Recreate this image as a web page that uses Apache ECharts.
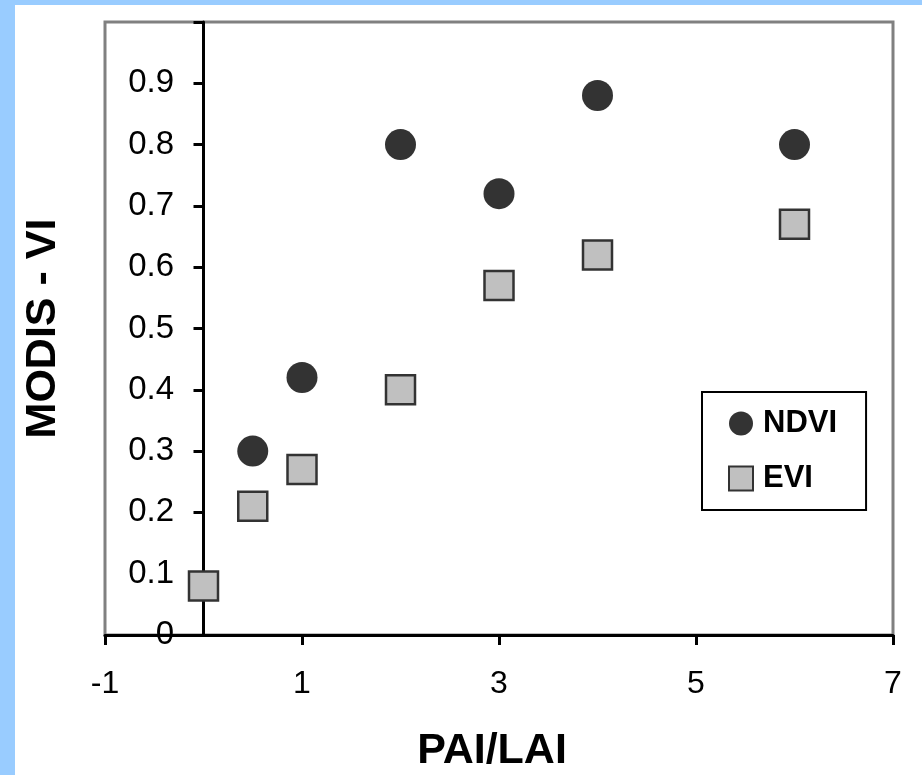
<!DOCTYPE html>
<html>
<head>
<meta charset="utf-8">
<script src="https://cdn.jsdelivr.net/npm/echarts@6/dist/echarts.min.js"></script>
<style>
  html, body { margin: 0; padding: 0; background: #99ccff; width: 922px; height: 775px; overflow: hidden; }
  #chart { position: absolute; left: 15px; top: 5px; width: 907px; height: 770px; background: #ffffff; }
</style>
</head>
<body>
<div id="chart"></div>
<script>
// PAI/LAI values and the matching MODIS vegetation indices
const ndviX = [0.5, 1, 2, 3, 4, 6];
const ndviY = [0.30, 0.42, 0.80, 0.72, 0.88, 0.80];
const eviX = [0, 0.5, 1, 2, 3, 4, 6];
const eviY = [0.08, 0.21, 0.27, 0.40, 0.57, 0.62, 0.67];

const xMin = -1, xMax = 7, xStep = 2;
const yMin = 0, yMax = 1, yStep = 0.1;

const FONT = '"Liberation Sans", Arial, sans-serif';
const pairs = (xs, ys) => xs.map((x, i) => [x, ys[i]]);

const chart = echarts.init(document.getElementById('chart'), null, { renderer: 'canvas' });
chart.setOption({
  animation: false,
  backgroundColor: '#ffffff',
  grid: {
    left: 90, right: 29, top: 17, bottom: 140,
    outerBoundsMode: 'none', containLabel: false,
    show: true, borderColor: '#808080', borderWidth: 3, backgroundColor: 'transparent'
  },
  legend: {
    orient: 'vertical',
    left: 687, top: 387,
    padding: [16, 29, 16, 26],
    itemGap: 24,
    itemWidth: 24, itemHeight: 24,
    borderColor: '#000000', borderWidth: 2, borderRadius: 0,
    textStyle: { fontFamily: FONT, fontSize: 31, fontWeight: 'bold', color: '#000', padding: [0, 0, 0, 5] },
    data: [
      { name: 'NDVI', icon: 'circle' },
      { name: 'EVI', icon: 'rect' }
    ]
  },
  xAxis: {
    type: 'value', min: xMin, max: xMax, interval: xStep,
    name: 'PAI/LAI', nameLocation: 'middle', nameGap: 95,
    nameTextStyle: { fontFamily: FONT, fontSize: 43, fontWeight: 'bold', color: '#000', padding: [0, 14, 0, 0] },
    axisLine: { onZero: true, lineStyle: { color: '#000', width: 3 } },
    axisTick: { show: true, inside: false, length: 10, lineStyle: { color: '#000', width: 3 } },
    axisLabel: { fontFamily: FONT, fontSize: 32, color: '#000', margin: 33 },
    splitLine: { show: false }
  },
  yAxis: {
    type: 'value', min: yMin, max: yMax, interval: yStep,
    name: 'MODIS - VI', nameLocation: 'middle', nameGap: 40, nameRotate: 90,
    nameTextStyle: { fontFamily: FONT, fontSize: 43, fontWeight: 'bold', color: '#000' },
    axisLine: { onZero: true, lineStyle: { color: '#000', width: 3 } },
    axisTick: { show: true, inside: false, length: 10, lineStyle: { color: '#000', width: 3 } },
    axisLabel: {
      fontFamily: FONT, fontSize: 33, color: '#000', margin: -69,
      formatter: v => (Math.abs(v - yMax) < 1e-9 ? '' : (Math.round(v * 10) / 10).toString())
    },
    splitLine: { show: false }
  },
  series: [
    {
      name: 'NDVI', type: 'scatter', symbol: 'circle', symbolSize: 31,
      itemStyle: { color: '#333333', opacity: 1 },
      data: pairs(ndviX, ndviY), z: 3
    },
    {
      name: 'EVI', type: 'scatter', symbol: 'rect', symbolSize: 29,
      itemStyle: { color: '#c0c0c0', borderColor: '#333333', borderWidth: 2.5, opacity: 1 },
      data: pairs(eviX, eviY), z: 4
    }
  ]
});
</script>
</body>
</html>
